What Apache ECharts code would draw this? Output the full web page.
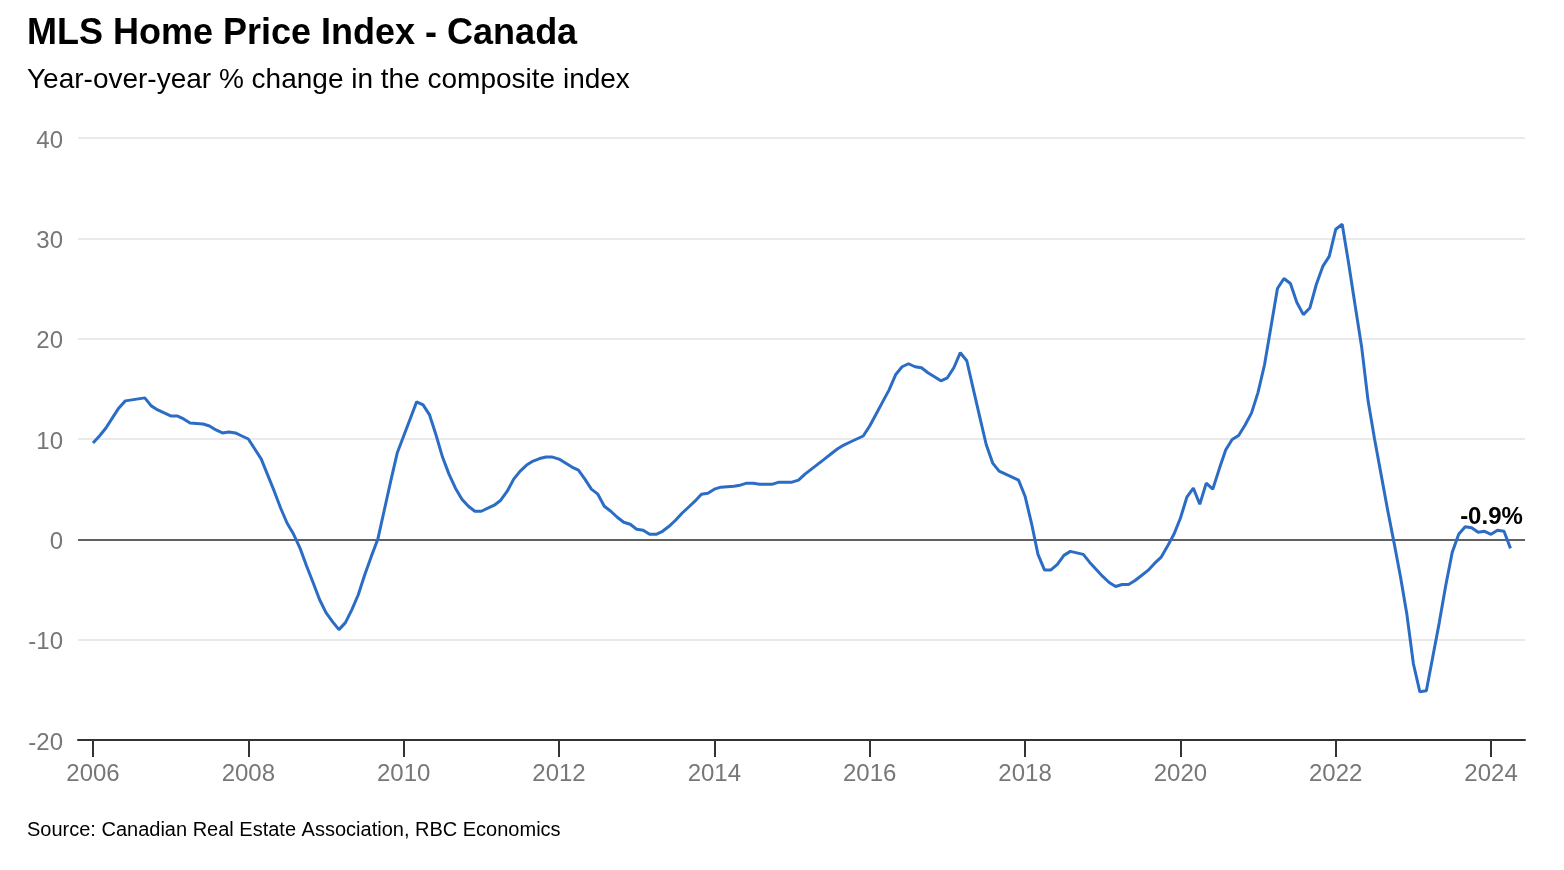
<!DOCTYPE html>
<html>
<head>
<meta charset="utf-8">
<script src="https://cdn.jsdelivr.net/npm/echarts@6/dist/echarts.min.js"></script>
<style>
html,body{margin:0;padding:0;background:#ffffff;}
#chart{width:1564px;height:870px;}
</style>
</head>
<body>
<div id="chart"></div>
<script>
// ---- Text ----
const titleText = 'MLS Home Price Index - Canada';
const subtitleText = 'Year-over-year % change in the composite index';
const sourceText = 'Source: Canadian Real Estate Association, RBC Economics';

// ---- Data: monthly year-over-year % change, starting January 2006 ----
const startYear = 2006;
const yoy2006 = [9.6, 10.3, 11.1, 12.1, 13.1, 13.8, 13.9, 14.0, 14.1, 13.3, 12.9, 12.6];
const yoy2007 = [12.3, 12.3, 12.0, 11.6, 11.55, 11.5, 11.3, 10.9, 10.6, 10.7, 10.6, 10.3];
const yoy2008 = [10.0, 9.0, 8.0, 6.4, 4.8, 3.1, 1.6, 0.5, -0.9, -2.65, -4.3, -6.0];
const yoy2009 = [-7.3, -8.2, -9.0, -8.3, -7.0, -5.5, -3.5, -1.7, 0.0, 2.9, 5.8, 8.6];
const yoy2010 = [10.3, 12.0, 13.7, 13.4, 12.4, 10.4, 8.2, 6.5, 5.1, 4.0, 3.3, 2.8];
const yoy2011 = [2.8, 3.1, 3.4, 3.9, 4.8, 6.0, 6.8, 7.4, 7.8, 8.05, 8.2, 8.2];
const yoy2012 = [8.0, 7.6, 7.2, 6.9, 6.0, 5.0, 4.5, 3.3, 2.8, 2.2, 1.7, 1.5];
const yoy2013 = [1.0, 0.9, 0.5, 0.5, 0.8, 1.3, 1.9, 2.6, 3.2, 3.8, 4.5, 4.6];
const yoy2014 = [5.0, 5.2, 5.25, 5.3, 5.4, 5.6, 5.6, 5.5, 5.5, 5.5, 5.7, 5.7];
const yoy2015 = [5.7, 5.9, 6.5, 7.0, 7.5, 8.0, 8.5, 9.0, 9.4, 9.7, 10.0, 10.3];
const yoy2016 = [11.3, 12.5, 13.7, 14.9, 16.4, 17.2, 17.5, 17.2, 17.1, 16.6, 16.2, 15.8];
const yoy2017 = [16.1, 17.1, 18.6, 17.8, 15.0, 12.2, 9.45, 7.6, 6.8, 6.5, 6.2, 5.9];
const yoy2018 = [4.3, 1.6, -1.5, -3.05, -3.05, -2.5, -1.6, -1.2, -1.35, -1.5, -2.3, -3.0];
const yoy2019 = [-3.7, -4.3, -4.7, -4.5, -4.5, -4.1, -3.6, -3.1, -2.4, -1.8, -0.7, 0.5];
const yoy2020 = [2.1, 4.2, 5.1, 3.5, 5.6, 5.0, 7.0, 8.9, 9.95, 10.35, 11.4, 12.6];
const yoy2021 = [14.65, 17.4, 21.2, 25.0, 26.0, 25.5, 23.6, 22.4, 23.05, 25.4, 27.2, 28.2];
const yoy2022 = [30.9, 31.4, 27.5, 23.3, 19.2, 13.8, 10.0, 6.5, 3.0, -0.3, -3.7, -7.5];
const yoy2023 = [-12.4, -15.2, -15.1, -11.7, -8.3, -4.6, -1.3, 0.5, 1.25, 1.15, 0.7, 0.8];
const yoy2024 = [0.5, 0.9, 0.8, -0.9];

// ---- Axis ticks ----
const xTickYears = [2006, 2008, 2010, 2012, 2014, 2016, 2018, 2020, 2022, 2024];
const yMin = -20, yMax = 40, yStep = 10;

const yoyAll = [].concat(yoy2006, yoy2007, yoy2008, yoy2009, yoy2010, yoy2011, yoy2012,
  yoy2013, yoy2014, yoy2015, yoy2016, yoy2017, yoy2018, yoy2019, yoy2020, yoy2021,
  yoy2022, yoy2023, yoy2024);

const seriesData = yoyAll.map(function (v, i) { return [startYear + i / 12, v]; });
const lastPoint = seriesData[seriesData.length - 1];

const chart = echarts.init(document.getElementById('chart'), null, {renderer: 'canvas'});
const FONT = 'Liberation Sans, Arial, Helvetica, sans-serif';

chart.setOption({
  animation: false,
  backgroundColor: '#ffffff',
  title: [
    {
      text: titleText, left: 22, top: 11,
      textStyle: {fontFamily: FONT, fontSize: 36, fontWeight: 'bold', color: '#000'}
    },
    {
      text: subtitleText, left: 22, top: 61,
      textStyle: {fontFamily: FONT, fontSize: 28, fontWeight: 'normal', color: '#000'}
    },
    {
      text: sourceText, left: 22, top: 815,
      textStyle: {fontFamily: FONT, fontSize: 20, fontWeight: 'normal', color: '#000'}
    }
  ],
  grid: {left: 78, right: 39, top: 138, bottom: 130, containLabel: false},
  xAxis: {
    type: 'value',
    min: 2005.807,
    max: 2024.437,
    axisLine: {show: true, onZero: false, lineStyle: {color: '#333', width: 2}},
    axisTick: {show: true, customValues: xTickYears, length: 17, lineStyle: {color: '#333', width: 2}},
    axisLabel: {
      show: true, customValues: xTickYears, margin: 22,
      formatter: function (v) { return String(Math.round(v)); },
      fontFamily: FONT, fontSize: 24, color: '#777'
    },
    splitLine: {show: false}
  },
  yAxis: {
    type: 'value',
    min: yMin, max: yMax, interval: yStep,
    axisLine: {show: false},
    axisTick: {show: false},
    axisLabel: {margin: 15, fontFamily: FONT, fontSize: 24, color: '#777', verticalAlign: 'top', lineHeight: 6},
    splitLine: {show: true, lineStyle: {color: '#e3e3e3', width: 1.5}}
  },
  series: [
    {
      type: 'line',
      data: seriesData,
      showSymbol: false,
      symbol: 'none',
      lineStyle: {color: '#2b6cc4', width: 3},
      itemStyle: {color: '#2b6cc4'},
      z: 3,
      markLine: {
        silent: true,
        symbol: ['none', 'none'],
        label: {show: false},
        lineStyle: {color: '#333', width: 1.5, type: 'solid'},
        data: [{yAxis: 0}],
        z: 2
      },
      markPoint: {
        silent: true,
        symbol: 'circle',
        symbolSize: 0,
        itemStyle: {color: 'transparent'},
        label: {
          show: true,
          position: 'inside',
          offset: [-19, -31],
          formatter: function (p) { return p.data.coord[1].toFixed(1) + '%'; },
          color: '#000',
          fontFamily: FONT,
          fontWeight: 'bold',
          fontSize: 24
        },
        data: [{coord: lastPoint, value: lastPoint[1]}]
      }
    }
  ]
});
</script>
</body>
</html>
